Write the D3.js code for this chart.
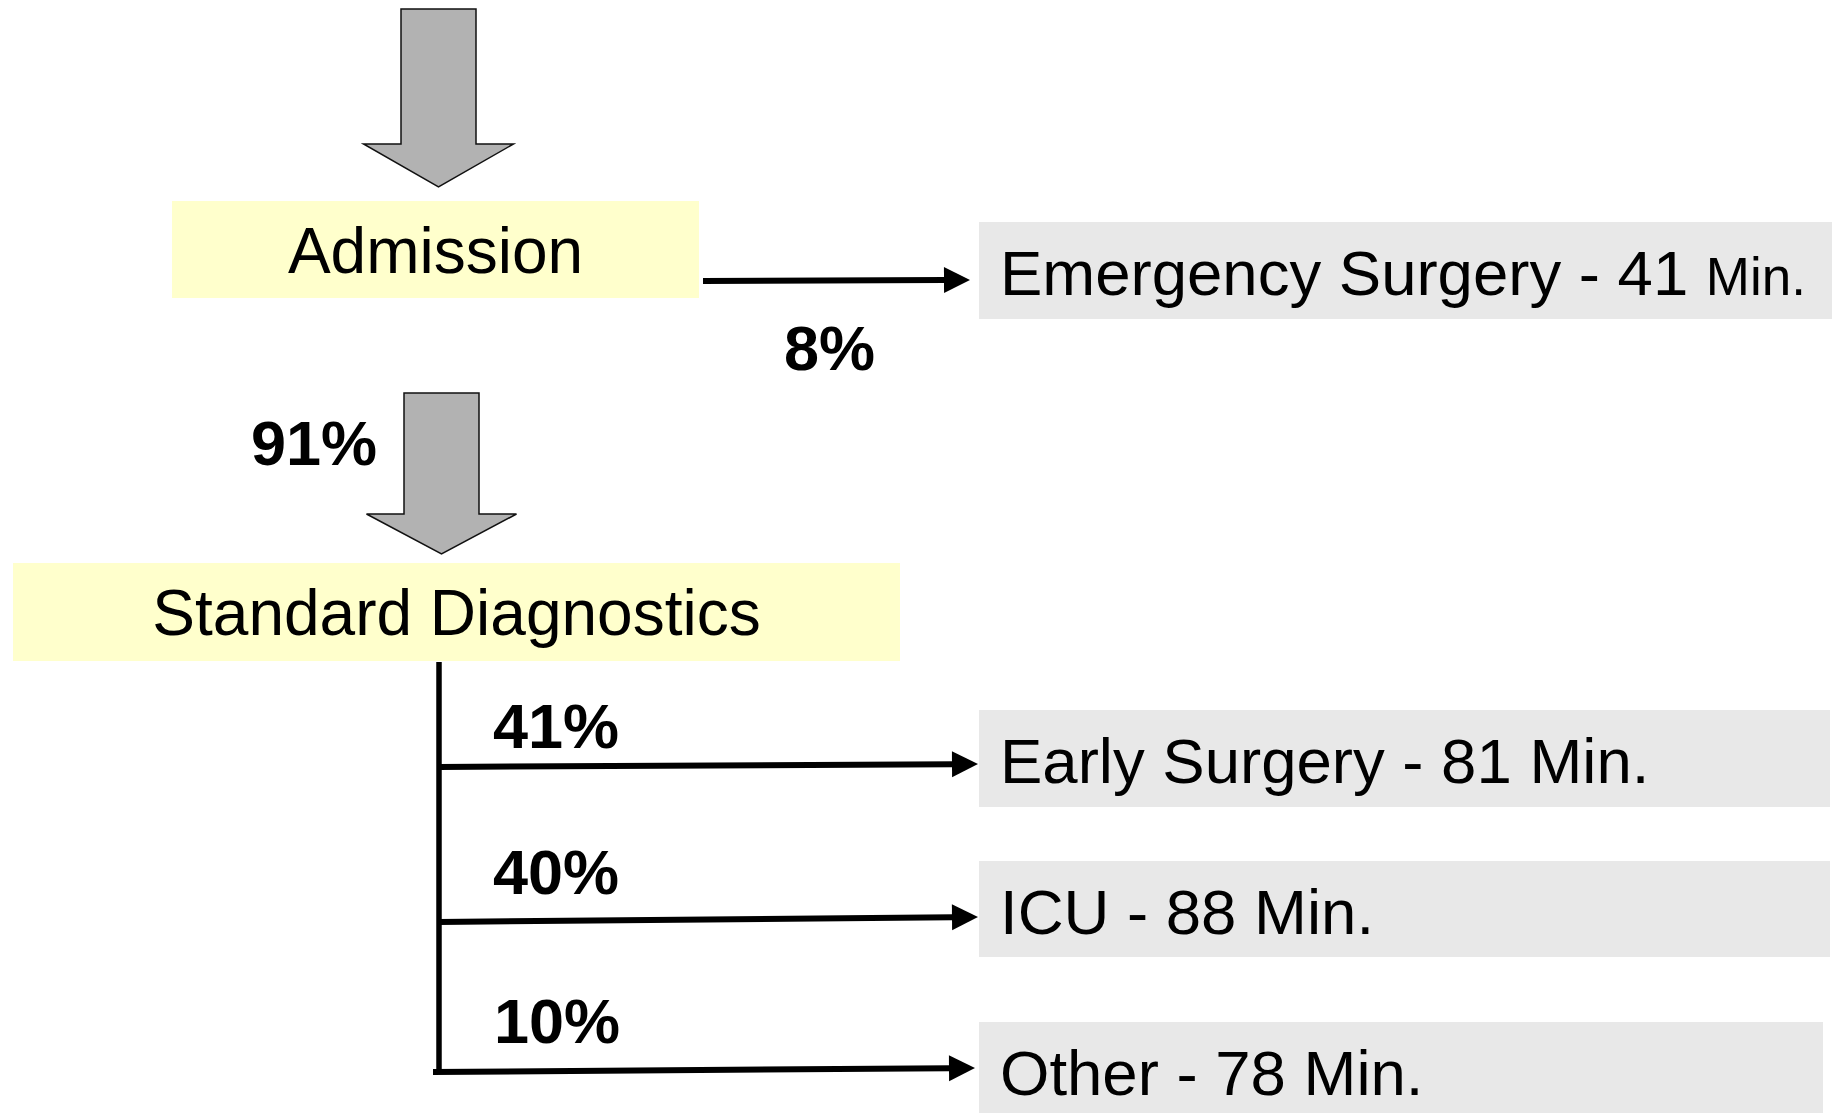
<!DOCTYPE html>
<html>
<head>
<meta charset="utf-8">
<script src="https://cdn.jsdelivr.net/npm/d3@7"></script>
<style>
  body { margin: 0; background: #fff; }
  text { font-family: "Liberation Sans", Arial, Helvetica, sans-serif; }
</style>
</head>
<body>
<script>
// Données du parcours patient
const stages = ['Admission', 'Standard Diagnostics']
const admitToDiag = 91
const outcomes = ['Emergency Surgery', 'Early Surgery', 'ICU', 'Other']
const outcomeMinutes = [41, 81, 88, 78]
const outcomeShares = [8, 41, 40, 10]

let width = 1832, height = 1113

let svg = d3.select('body').append('svg')
    .attr('width', width)
    .attr('height', height)

// Mise en page (positions en pixels)
let stageBoxes = [
    { x0: 172, x1: 699, y0: 201, y1: 298 },
    { x0: 13, x1: 900, y0: 563, y1: 661 }
]
let blockArrows = [
    { cx: 438.5, top: 9, headY: 144, tip: 187 },
    { cx: 441.5, top: 393, headY: 514, tip: 554 }
]
let outcomeBoxes = [
    { x0: 979, x1: 1832, y0: 222, y1: 319 },
    { x0: 979, x1: 1830, y0: 710, y1: 807 },
    { x0: 979, x1: 1830, y0: 861, y1: 957 },
    { x0: 979, x1: 1823, y0: 1022, y1: 1113 }
]
let outcomeArrows = [
    { x0: 703, y0: 281, x1: 970, y1: 280 },
    { x0: 439, y0: 767, x1: 978, y1: 764 },
    { x0: 439, y0: 922, x1: 978, y1: 917 },
    { x0: 433, y0: 1072, x1: 975, y1: 1068 }
]
let shareLabelPos = [
    { x: 784, y: 370 },
    { x: 493, y: 748 },
    { x: 493, y: 894 },
    { x: 494, y: 1043 }
]

// Grosses flèches grises
let shaftHalf = 37.5, headHalf = 75
svg.append('g')
    .selectAll('path')
    .data(blockArrows)
    .join('path')
    .attr('d', d => {
        let p = d3.path()
        p.moveTo(d.cx - shaftHalf, d.top)
        p.lineTo(d.cx + shaftHalf, d.top)
        p.lineTo(d.cx + shaftHalf, d.headY)
        p.lineTo(d.cx + headHalf, d.headY)
        p.lineTo(d.cx, d.tip)
        p.lineTo(d.cx - headHalf, d.headY)
        p.lineTo(d.cx - shaftHalf, d.headY)
        p.closePath()
        return p.toString()
    })
    .attr('fill', '#b2b2b2')
    .attr('stroke', '#111')
    .attr('stroke-width', 1.5)
    .attr('stroke-linejoin', 'miter')

// Boîtes des étapes (jaune)
let stageG = svg.append('g')
stageG.selectAll('rect')
    .data(stages)
    .join('rect')
    .attr('x', (d, i) => stageBoxes[i].x0)
    .attr('y', (d, i) => stageBoxes[i].y0)
    .attr('width', (d, i) => stageBoxes[i].x1 - stageBoxes[i].x0)
    .attr('height', (d, i) => stageBoxes[i].y1 - stageBoxes[i].y0)
    .attr('fill', '#ffffcc')
stageG.selectAll('text')
    .data(stages)
    .join('text')
    .attr('x', (d, i) => (stageBoxes[i].x0 + stageBoxes[i].x1) / 2)
    .attr('y', (d, i) => stageBoxes[i].y0 + 72)
    .attr('text-anchor', 'middle')
    .attr('font-size', 64)
    .attr('fill', '#000')
    .text(d => d)

// Boîtes des issues (gris)
let outG = svg.append('g')
outG.selectAll('rect')
    .data(outcomes)
    .join('rect')
    .attr('x', (d, i) => outcomeBoxes[i].x0)
    .attr('y', (d, i) => outcomeBoxes[i].y0)
    .attr('width', (d, i) => outcomeBoxes[i].x1 - outcomeBoxes[i].x0)
    .attr('height', (d, i) => outcomeBoxes[i].y1 - outcomeBoxes[i].y0)
    .attr('fill', '#e8e8e8')

outG.selectAll('text')
    .data(outcomes)
    .join('text')
    .attr('x', (d, i) => outcomeBoxes[i].x0 + 21)
    .attr('y', (d, i) => outcomeBoxes[i].y0 + 73)
    .attr('font-size', 63.5)
    .attr('fill', '#000')
    .each(function (d, i) {
        let t = d3.select(this)
        t.append('tspan').text(d + ' - ' + outcomeMinutes[i] + ' ')
        // "Min." plus petit pour la chirurgie d'urgence
        t.append('tspan').attr('font-size', i === 0 ? 53 : 63.5).text('Min.')
    })

// Lignes fléchées
let lineG = svg.append('g')
lineG.append('line')
    .attr('x1', 439).attr('y1', 662)
    .attr('x2', 439).attr('y2', 1070)
    .attr('stroke', '#000')
    .attr('stroke-width', 5.5)

let headLen = 26, headW = 13
outcomeArrows.forEach(a => {
    let ang = Math.atan2(a.y1 - a.y0, a.x1 - a.x0)
    let bx = a.x1 - headLen * Math.cos(ang), by = a.y1 - headLen * Math.sin(ang)
    lineG.append('line')
        .attr('x1', a.x0).attr('y1', a.y0)
        .attr('x2', bx + 1).attr('y2', by)
        .attr('stroke', '#000')
        .attr('stroke-width', 6)
    let nx = -Math.sin(ang) * headW, ny = Math.cos(ang) * headW
    lineG.append('path')
        .attr('d', `M${a.x1},${a.y1}L${bx + nx},${by + ny}L${bx - nx},${by - ny}Z`)
        .attr('fill', '#000')
})

// Pourcentages
svg.append('g')
    .selectAll('text')
    .data(outcomeShares)
    .join('text')
    .attr('x', (d, i) => shareLabelPos[i].x)
    .attr('y', (d, i) => shareLabelPos[i].y)
    .attr('font-size', 63)
    .attr('font-weight', 'bold')
    .attr('fill', '#000')
    .text(d => d + '%')

svg.append('text')
    .attr('x', 251)
    .attr('y', 465)
    .attr('font-size', 63)
    .attr('font-weight', 'bold')
    .attr('fill', '#000')
    .text(admitToDiag + '%')
</script>
</body>
</html>
